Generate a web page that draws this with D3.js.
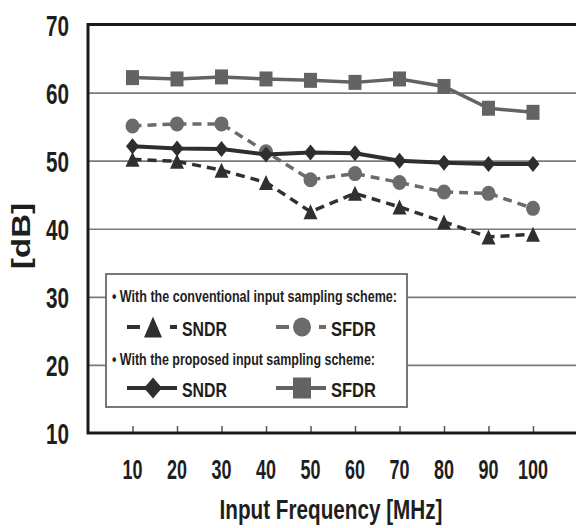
<!DOCTYPE html>
<html>
<head>
<meta charset="utf-8">
<script src="https://cdn.jsdelivr.net/npm/d3@7"></script>
<style>
  html, body { margin: 0; padding: 0; background: #fff; }
  svg text { font-family: "Liberation Sans Narrow", "Liberation Sans", Arial, sans-serif; font-weight: bold; fill: #1e1e1e; }
</style>
</head>
<body>
<div id="chart"></div>
<script>
// input frequency (MHz)
const freqs = [10, 20, 30, 40, 50, 60, 70, 80, 90, 100];
// conventional input sampling scheme
const sndrConv = [50.2, 49.9, 48.6, 46.8, 42.5, 45.2, 43.2, 41.0, 38.8, 39.2];
const sfdrConv = [55.1, 55.4, 55.4, 51.3, 47.2, 48.1, 46.8, 45.4, 45.2, 43.0];
// proposed input sampling scheme
const sndrProp = [52.1, 51.8, 51.7, 50.9, 51.2, 51.1, 50.0, 49.7, 49.5, 49.5];
const sfdrProp = [62.2, 62.0, 62.3, 62.0, 61.8, 61.5, 62.0, 60.9, 57.7, 57.1];
const yTicks = [10, 20, 30, 40, 50, 60, 70];

const W = 576, H = 528;
const plotLeft = 88, plotTop = 24.5, plotBottom = 433;

const svg = d3.select("#chart").append("svg")
    .attr("width", W).attr("height", H);

const x = d3.scaleLinear().domain([0, 110]).range([plotLeft, plotLeft + 110 * 4.45]);
const y = d3.scaleLinear().domain([10, 70]).range([plotBottom, plotTop]);

// 网格线
svg.append("g")
    .attr("transform", `translate(${plotLeft},0)`)
    .call(d3.axisLeft(y).tickValues([20, 30, 40, 50, 60]).tickSize(-(W - plotLeft)).tickFormat(""))
    .call(g => g.select(".domain").remove())
    .call(g => g.selectAll(".tick line").attr("stroke", "#7a7a7a").attr("stroke-width", 1.6));

// 底部刻度
svg.append("g")
    .attr("transform", `translate(0,${plotBottom})`)
    .call(d3.axisBottom(x).tickValues(freqs).tickSize(-7).tickFormat(""))
    .call(g => g.select(".domain").remove())
    .call(g => g.selectAll(".tick line").attr("stroke", "#555").attr("stroke-width", 1.5));

// 边框
const frame = svg.append("g").attr("stroke", "#1a1a1a").attr("stroke-width", 3).attr("fill", "none");
frame.append("path").attr("d", `M${W + 2},${y(70)}H${plotLeft}V${y(10)}H${W + 2}`);

// y 标签
svg.append("g").selectAll("text")
    .data(yTicks)
    .join("text")
    .attr("x", 69)
    .attr("y", d => y(d) + 11)
    .attr("text-anchor", "end")
    .attr("font-size", 30)
    .attr("textLength", 23)
    .attr("lengthAdjust", "spacingAndGlyphs")
    .text(d => d);

// x 标签
svg.append("g").selectAll("text")
    .data(freqs)
    .join("text")
    .attr("x", d => x(d))
    .attr("y", 479)
    .attr("text-anchor", "middle")
    .attr("font-size", 28)
    .attr("textLength", d => d === 100 ? 30 : 20)
    .attr("lengthAdjust", "spacingAndGlyphs")
    .text(d => d);

svg.append("text")
    .attr("x", 331).attr("y", 519)
    .attr("text-anchor", "middle")
    .attr("font-size", 27)
    .attr("textLength", 223)
    .attr("lengthAdjust", "spacingAndGlyphs")
    .text("Input Frequency [MHz]");

svg.append("text")
    .attr("transform", "translate(30,236) rotate(-90)")
    .attr("text-anchor", "middle")
    .style("font-family", "'Liberation Sans', Arial, sans-serif")
    .attr("font-size", 25)
    .attr("textLength", 66)
    .attr("lengthAdjust", "spacingAndGlyphs")
    .text("[dB]");

// 标记形状
const shapes = {
    triangle: (w, h) => `M0,${-h / 2}L${w / 2},${h / 2}L${-w / 2},${h / 2}Z`,
    diamond: (w, h) => `M0,${-h / 2}L${w / 2},0L0,${h / 2}L${-w / 2},0Z`,
    square: (w, h) => `M${-w / 2},${-h / 2}h${w}v${h}h${-w}Z`
};

function marker(g, type, cx, cy, color, w, h) {
    if (type === "circle") {
        g.append("ellipse").attr("cx", cx).attr("cy", cy).attr("rx", w / 2).attr("ry", h / 2).attr("fill", color);
    } else {
        g.append("path").attr("transform", `translate(${cx},${cy})`).attr("d", shapes[type](w, h)).attr("fill", color);
    }
}

const series = [
    { name: "sfdrConv", values: sfdrConv, color: "#6b6b6b", dash: "9,6", width: 3.5, type: "circle", w: 14, h: 15 },
    { name: "sndrConv", values: sndrConv, color: "#303030", dash: "9,6", width: 3.5, type: "triangle", w: 14, h: 15 },
    { name: "sfdrProp", values: sfdrProp, color: "#636363", dash: null, width: 3.5, type: "square", w: 13, h: 15 },
    { name: "sndrProp", values: sndrProp, color: "#2e2e2e", dash: null, width: 4, type: "diamond", w: 13, h: 16 }
];

const line = d3.line().x((d, i) => x(freqs[i])).y(d => y(d));

series.forEach(s => {
    const g = svg.append("g").attr("class", s.name);
    g.append("path")
        .datum(s.values)
        .attr("fill", "none")
        .attr("stroke", s.color)
        .attr("stroke-width", s.width)
        .attr("stroke-dasharray", s.dash)
        .attr("d", line);
    s.values.forEach((v, i) => marker(g, s.type, x(freqs[i]), y(v), s.color, s.w, s.h));
});

// 图例
const legend = svg.append("g");
legend.append("rect")
    .attr("x", 106).attr("y", 274).attr("width", 301).attr("height", 133)
    .attr("fill", "#fff").attr("stroke", "#6a6a6a").attr("stroke-width", 1.8);

const head = (yy, str, len) => legend.append("text")
    .attr("x", 112).attr("y", yy)
    .attr("font-size", 16)
    .attr("textLength", len)
    .attr("lengthAdjust", "spacingAndGlyphs")
    .text(str);
head(301.5, "\u2022 With the conventional input sampling scheme:", 285);
head(365, "\u2022 With the proposed input sampling scheme:", 263);

const item = (x0, yy, s, label, dashed) => {
    if (dashed) {
        legend.append("line").attr("x1", x0).attr("x2", x0 + 13).attr("y1", yy).attr("y2", yy)
            .attr("stroke", s.color).attr("stroke-width", 4);
        legend.append("line").attr("x1", x0 + 43).attr("x2", x0 + 50).attr("y1", yy).attr("y2", yy)
            .attr("stroke", s.color).attr("stroke-width", 4);
    } else {
        legend.append("line").attr("x1", x0).attr("x2", x0 + 50).attr("y1", yy).attr("y2", yy)
            .attr("stroke", s.color).attr("stroke-width", 4);
    }
    marker(legend, s.type, x0 + 26, yy, s.color, 18, s.type === "circle" ? 19 : 21);
    legend.append("text")
        .attr("x", x0 + 55).attr("y", yy + 9)
        .attr("font-size", 20)
        .attr("textLength", 45)
        .attr("lengthAdjust", "spacingAndGlyphs")
        .text(label);
};
item(127, 327, series[1], "SNDR", true);
item(276, 327, series[0], "SFDR", true);
item(127, 388, series[3], "SNDR", false);
item(276, 388, series[2], "SFDR", false);
</script>
</body>
</html>
